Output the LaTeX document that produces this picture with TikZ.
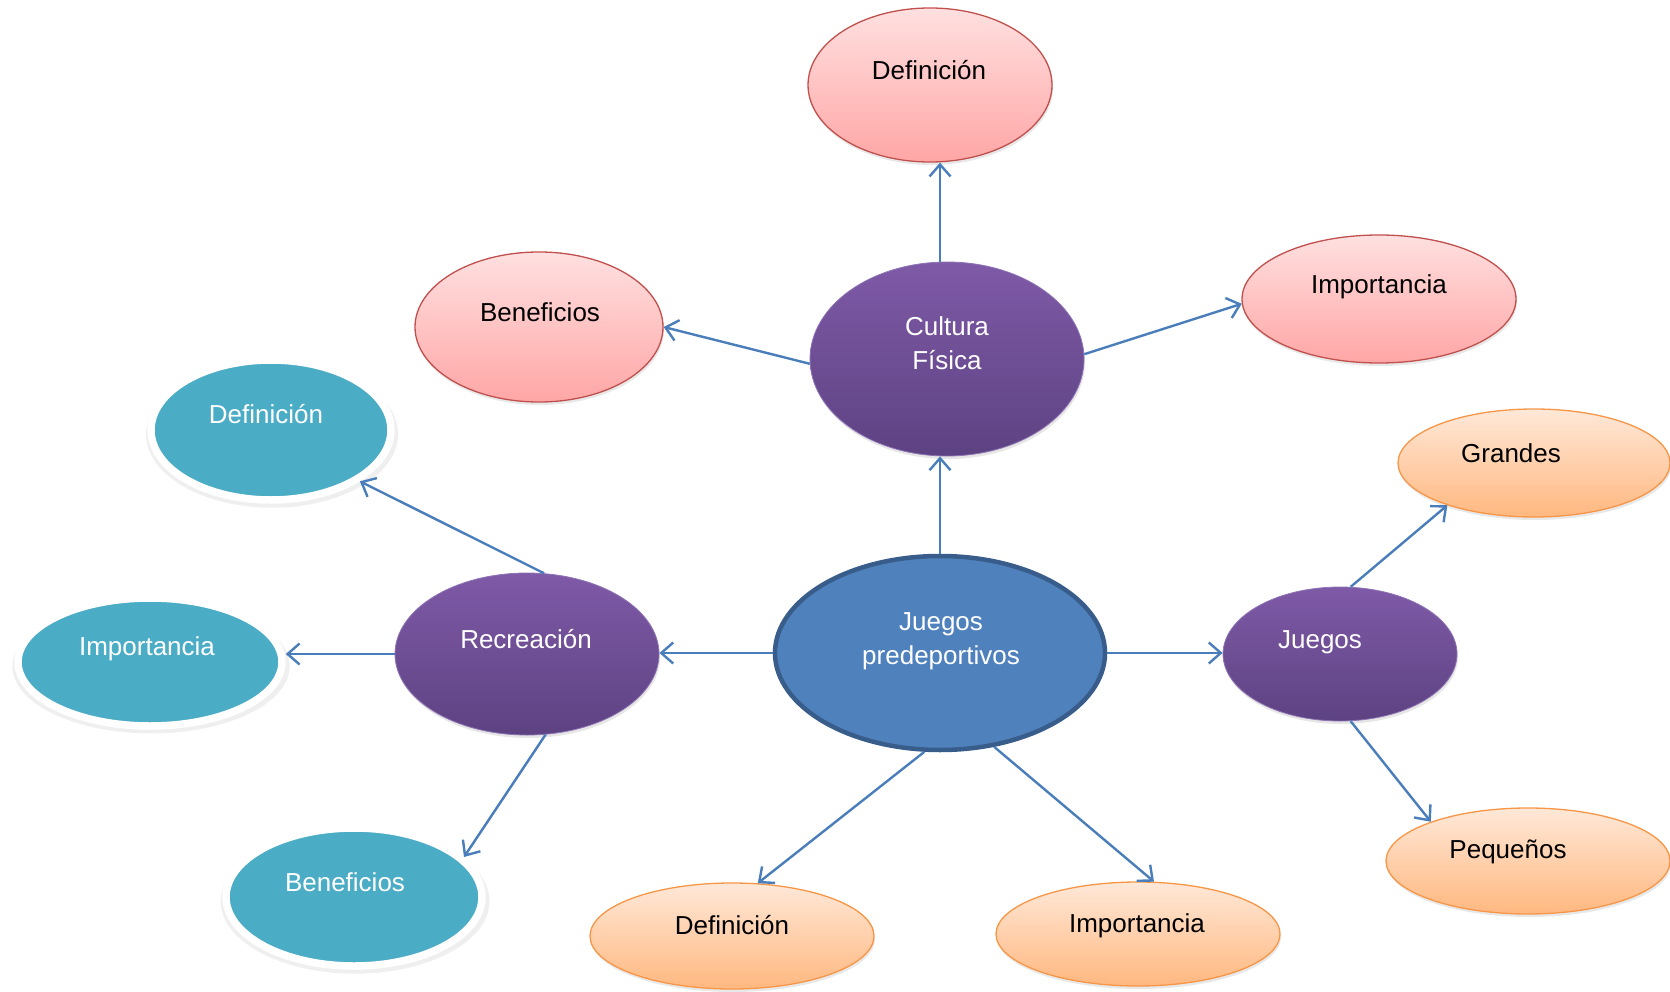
\documentclass[tikz,border=0pt]{standalone}
\usepackage{fontspec}
\setmainfont{Liberation Sans}
\usetikzlibrary{arrows.meta,shapes.geometric,shadows}
\definecolor{hubfill}{HTML}{4F81BD}
\definecolor{hubline}{HTML}{385D8A}
\definecolor{purtop}{HTML}{7F5AA7}
\definecolor{purbot}{HTML}{5D4282}
\definecolor{purline}{HTML}{8E74B5}
\definecolor{pinktop}{HTML}{FFE0E0}
\definecolor{pinkbot}{HTML}{FFA6A6}
\definecolor{pinkline}{HTML}{C0504D}
\definecolor{orgtop}{HTML}{FFE8D8}
\definecolor{orgbot}{HTML}{FFB880}
\definecolor{orgline}{HTML}{F79646}
\definecolor{tealfill}{HTML}{4BACC6}
\definecolor{arrowc}{HTML}{4A7EBB}
\begin{document}
\begin{tikzpicture}[x=1pt,y=-1pt,
  sz/.style 2 args={ellipse, inner sep=0pt, minimum width=#1pt, minimum height=#2pt},
  hubbox/.style={fill=hubfill, draw=hubline, line width=4.5pt},
  purbox/.style={top color=purtop, bottom color=purbot, draw=purline, line width=0.8pt,
     drop shadow={shadow xshift=1pt, shadow yshift=-3pt, opacity=.2}},
  pinkbox/.style={top color=pinktop, bottom color=pinkbot, draw=pinkline, line width=1.3pt,
     drop shadow={shadow xshift=1pt, shadow yshift=-3pt, opacity=.18}},
  orgbox/.style={top color=orgtop, bottom color=orgbot, draw=orgline, line width=1.3pt,
     drop shadow={shadow xshift=1pt, shadow yshift=-3pt, opacity=.18}},
  tealbox/.style={fill=tealfill, draw=white, line width=7.5pt,
     drop shadow={shadow scale=1.05, shadow xshift=1pt, shadow yshift=-4pt, opacity=.13}},
  txt/.style={font=\fontsize{26}{34}\selectfont, inner sep=0pt, align=center},
  wtxt/.style={txt, text=white},
  btxt/.style={txt, text=black},
  conn/.style={draw=arrowc, line width=2.4pt, -{Straight Barb[length=12pt,width=21pt]}}
]
\useasboundingbox (0,0) rectangle (1670,992);

% ellipses
\node[sz={330}{194}, hubbox] (hub) at (940,653) {};
\node[sz={274}{194}, purbox] (cf) at (947,359) {};
\node[sz={264}{162}, purbox] (rec) at (527,654) {};
\node[sz={234}{134}, purbox] (jue) at (1340,654) {};

\node[sz={244}{154}, pinkbox] (def1) at (930,85) {};
\node[sz={274}{128}, pinkbox] (imp1) at (1379,299) {};
\node[sz={248}{150}, pinkbox] (ben1) at (539,327) {};

\node[sz={240}{140}, tealbox] (def2) at (271,430) {};
\node[sz={264}{128}, tealbox] (imp2) at (150,662) {};
\node[sz={256}{138}, tealbox] (ben2) at (354,897) {};

\node[sz={272}{108}, orgbox] (gra) at (1534,463) {};
\node[sz={284}{106}, orgbox] (peq) at (1528,861) {};
\node[sz={284}{106}, orgbox] (def3) at (732,936) {};
\node[sz={284}{104}, orgbox] (imp3) at (1138,934) {};

% texts
\node[wtxt] (thub) at (941,641) {Juegos\\predeportivos};
\node[wtxt] (tcf) at (947,343) {Cultura\\Física};
\node[wtxt, anchor=base] (trec) at (526,648) {Recreación};
\node[wtxt, anchor=base] (tjue) at (1320,648) {Juegos};
\node[btxt, anchor=base] (tdef1) at (929,80) {Definición};
\node[btxt, anchor=base] (timp1) at (1379,294) {Importancia};
\node[btxt, anchor=base] (tben1) at (540,321) {Beneficios};
\node[wtxt, anchor=base] (tdef2) at (266,423) {Definición};
\node[wtxt, anchor=base] (timp2) at (147,655) {Importancia};
\node[wtxt, anchor=base] (tben2) at (345,891) {Beneficios};
\node[btxt, anchor=base] (tgra) at (1511,462) {Grandes};
\node[btxt, anchor=base] (tpeq) at (1508,858) {Pequeños};
\node[btxt, anchor=base] (tdef3) at (732,934) {Definición};
\node[btxt, anchor=base] (timp3) at (1137,932) {Importancia};

% connectors
\draw[conn] (hub.north) -- (hub.north |- cf.south);
\draw[conn] (hub.north |- cf.north) -- (hub.north |- def1.south);
\draw[conn] (cf.182) -- (ben1.east);
\draw[conn] (cf.2) -- (imp1.182);
\draw[conn] (hub.west) -- (hub.west -| rec.east);
\draw[conn] (hub.east) -- (hub.east -| jue.west);
\draw[conn] (hub.261) -- (def3.64);
\draw[conn] (hub.300) -- (imp3.73);
\draw[conn] (rec.78) -- (def2.-30);
\draw[conn] (rec.west) -- (rec.west -| imp2.east);
\draw[conn] (rec.-77) -- (ben2.20);
\draw[conn] (jue.81) -- (gra.206);
\draw[conn] (jue.-81) -- (peq.158);
\end{tikzpicture}
\end{document}
